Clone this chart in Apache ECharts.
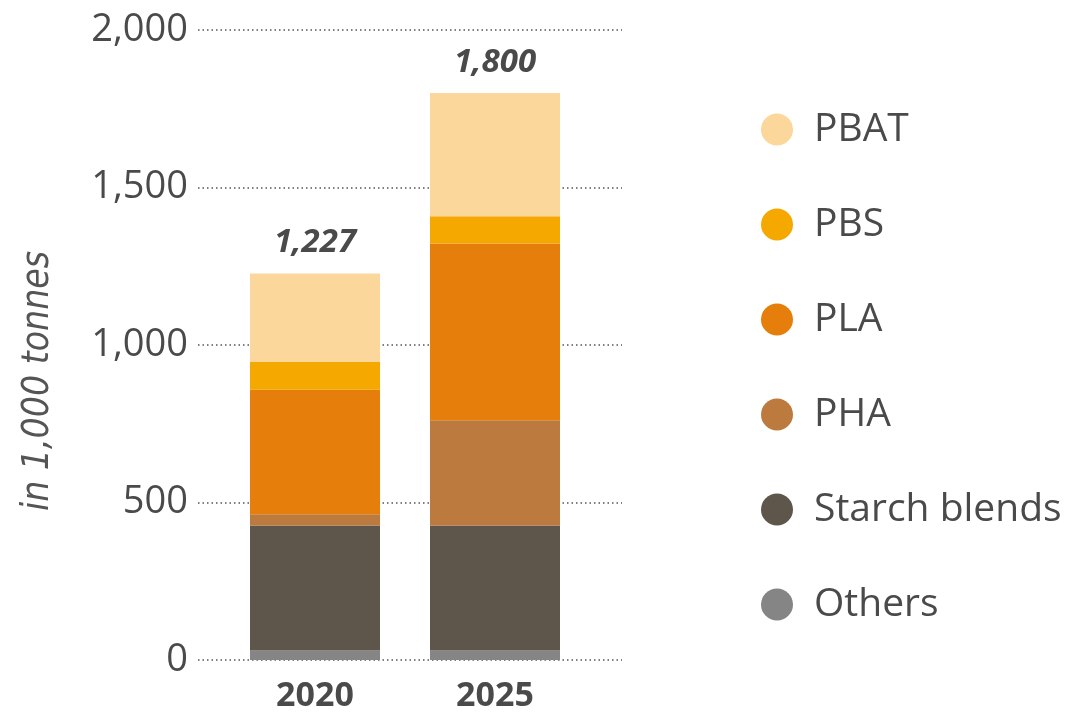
<!DOCTYPE html>
<html>
<head>
<meta charset="utf-8">
<script src="https://cdn.jsdelivr.net/npm/echarts@6/dist/echarts.min.js"></script>
<style>html,body{margin:0;padding:0;background:#fff}#c{width:1081px;height:715px}</style>
</head>
<body>
<div id="c"></div>
<script>
const categories = ['2020', '2025'];
const seriesNames = ['Others', 'Starch blends', 'PHA', 'PLA', 'PBS', 'PBAT'];
const others = [30, 30];
const starchBlends = [397, 397];
const pha = [36, 334];
const pla = [395, 561];
const pbs = [88, 87];
const pbat = [281, 391];
const yTicks = [0, 500, 1000, 1500, 2000];
const colors = ['#858585', '#5E554B', '#BD7A3E', '#E57E0A', '#F5A800', '#FCD79B'];

const values = [others, starchBlends, pha, pla, pbs, pbat];
const totals = categories.map((_, i) => values.reduce((s, arr) => s + arr[i], 0));

const txt = '#4a4a4a';
const chart = echarts.init(document.getElementById('c'), null, {renderer: 'canvas'});
const yBase = {
  type: 'value', min: yTicks[0], max: yTicks[yTicks.length - 1], interval: 500
};
const option = {
  animation: false,
  grid: [
    {left: 198, right: 459, top: 30, bottom: 55},
    {left: 225, right: 496, top: 30, bottom: 55}
  ],
  xAxis: [
    {gridIndex: 0, type: 'category', data: categories, show: false},
    {gridIndex: 1, type: 'category', data: categories,
     axisLine: {show: false}, axisTick: {show: false},
     axisLabel: {color: txt, fontSize: 34, fontWeight: 'bold', fontFamily: 'Open Sans', margin: 19}}
  ],
  yAxis: [
    Object.assign({gridIndex: 0}, yBase, {
      axisLine: {show: false}, axisTick: {show: false},
      axisLabel: {color: txt, fontSize: 38, fontFamily: 'Open Sans', fontWeight: 'normal', margin: 10,
        formatter: v => v.toLocaleString('en-US')},
      splitLine: {lineStyle: {type: [1.5, 3], color: '#555', width: 1.5}}
    }),
    Object.assign({gridIndex: 1}, yBase, {show: false, splitLine: {show: false}})
  ],
  legend: {
    orient: 'vertical', left: 756, top: 105,
    data: seriesNames.slice().reverse(),
    icon: 'circle', itemWidth: 32, itemHeight: 32, itemGap: 56,
    textStyle: {color: txt, fontSize: 39, fontFamily: 'Open Sans', fontWeight: 'normal', padding: [0, 0, 0, 16]}
  },
  graphic: [{
    type: 'text', x: 38, y: 381, rotation: Math.PI / 2,
    style: {text: 'in 1,000 tonnes', fill: '#555', font: 'italic 37px "Liberation Sans Narrow", "DejaVu Sans Condensed", sans-serif', textAlign: 'center', textVerticalAlign: 'middle'}
  }],
  series: seriesNames.map((name, k) => ({
    name, type: 'bar', stack: 'total', xAxisIndex: 1, yAxisIndex: 1,
    barWidth: 130, data: values[k],
    itemStyle: {color: colors[k]},
    label: k === seriesNames.length - 1 ? {
      show: true, position: 'top', distance: 14,
      formatter: p => totals[p.dataIndex].toLocaleString('en-US'),
      color: txt, fontSize: 33, fontWeight: 'bold', fontStyle: 'italic', fontFamily: 'Open Sans'
    } : {show: false}
  }))
};
chart.setOption(option);
</script>
</body>
</html>
